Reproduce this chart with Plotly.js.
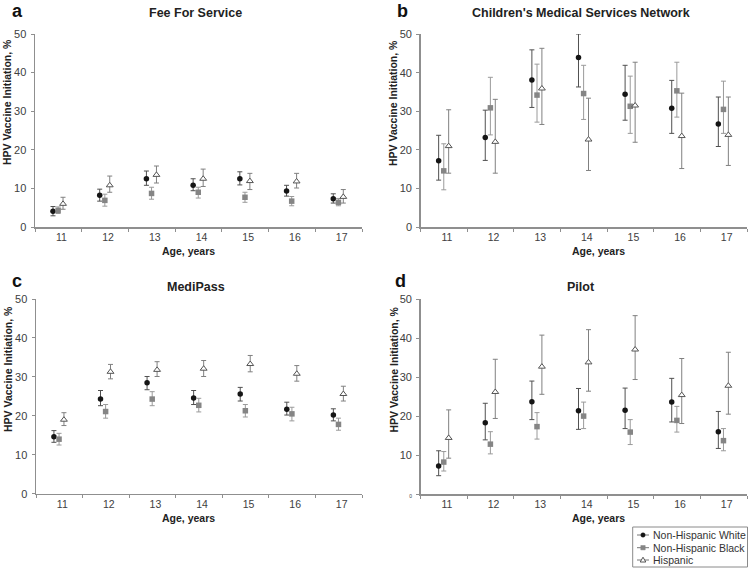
<!DOCTYPE html>
<html>
<head>
<meta charset="utf-8">
<script src="https://cdn.plot.ly/plotly-3.0.1.min.js"></script>
<style>html,body{margin:0;padding:0;background:#fff;}#chart{width:750px;height:572px;}</style>
</head>
<body>
<div id="chart"></div>
<script>
// ---------- data ----------
const ages = [11, 12, 13, 14, 15, 16, 17];
const seriesNames = ['Non-Hispanic White', 'Non-Hispanic Black', 'Hispanic'];
const panelTitles = ['Fee For Service', "Children's Medical Services Network", 'MediPass', 'Pilot'];
const panelLetters = ['a', 'b', 'c', 'd'];
const yTickVals = [0, 10, 20, 30, 40, 50];

// a: Fee For Service
const faWhite   = [4.1, 8.2, 12.5, 10.8, 12.5, 9.3, 7.3];
const faWhiteHi = [5.3, 9.8, 14.5, 12.5, 14.3, 10.8, 8.6];
const faWhiteLo = [2.9, 6.7, 10.8, 9.4, 10.9, 8.0, 6.2];
const faBlack   = [4.3, 6.9, 8.7, 9.0, 7.7, 6.7, 6.4];
const faBlackHi = [5.2, 8.5, 10.3, 10.3, 9.0, 7.9, 7.4];
const faBlackLo = [3.5, 5.4, 7.2, 7.5, 6.4, 5.5, 5.5];
const faHisp    = [6.0, 10.8, 13.5, 12.5, 11.9, 11.8, 7.8];
const faHispHi  = [7.7, 13.2, 15.8, 15.0, 13.9, 13.9, 9.7];
const faHispLo  = [4.6, 9.0, 11.4, 10.5, 9.7, 10.1, 6.2];

// b: Children's Medical Services Network
const cmWhite   = [17.2, 23.2, 38.1, 43.9, 34.4, 30.8, 26.7];
const cmWhiteHi = [23.8, 30.3, 45.9, 50.0, 41.9, 38.0, 33.7];
const cmWhiteLo = [12.2, 17.3, 31.0, 36.3, 27.7, 24.3, 20.9];
const cmBlack   = [14.6, 30.9, 34.2, 34.6, 31.3, 35.3, 30.5];
const cmBlackHi = [21.6, 38.8, 42.2, 41.9, 39.1, 42.7, 37.8];
const cmBlackLo = [9.7, 23.9, 27.2, 27.9, 24.3, 28.5, 24.3];
const cmHisp    = [21.0, 22.1, 35.9, 22.7, 31.5, 23.6, 23.9];
const cmHispHi  = [30.4, 33.1, 46.3, 33.4, 42.7, 34.7, 33.7];
const cmHispLo  = [14.0, 14.0, 26.6, 14.7, 22.0, 15.2, 16.0];

// c: MediPass
const mpWhite   = [14.6, 24.3, 28.5, 24.6, 25.6, 21.7, 20.2];
const mpWhiteHi = [16.2, 26.5, 30.1, 26.5, 27.3, 23.5, 21.8];
const mpWhiteLo = [13.2, 22.6, 26.7, 22.9, 23.8, 20.2, 18.7];
const mpBlack   = [14.0, 21.1, 24.3, 22.7, 21.3, 20.5, 17.8];
const mpBlackHi = [15.5, 22.9, 26.2, 24.5, 22.9, 22.2, 19.4];
const mpBlackLo = [12.5, 19.4, 22.6, 21.0, 19.7, 18.7, 16.3];
const mpHisp    = [19.0, 31.3, 31.8, 32.1, 33.3, 30.8, 25.6];
const mpHispHi  = [20.8, 33.2, 33.9, 34.2, 35.5, 32.9, 27.6];
const mpHispLo  = [17.5, 29.5, 30.1, 30.1, 31.3, 28.9, 23.8];

// d: Pilot
const plWhite   = [7.2, 18.3, 23.7, 21.4, 21.5, 23.6, 16.0];
const plWhiteHi = [11.1, 23.3, 29.0, 27.1, 27.2, 29.7, 21.2];
const plWhiteLo = [4.7, 13.9, 19.1, 16.6, 16.8, 18.5, 11.7];
const plBlack   = [8.2, 12.8, 17.3, 20.0, 15.9, 18.9, 13.7];
const plBlackHi = [10.9, 16.0, 20.9, 23.6, 19.1, 22.5, 16.8];
const plBlackLo = [5.9, 10.3, 14.1, 16.8, 12.7, 15.9, 11.1];
const plHisp    = [14.4, 26.2, 32.7, 33.8, 37.1, 25.4, 27.8];
const plHispHi  = [21.6, 34.6, 40.8, 42.2, 45.8, 34.8, 36.4];
const plHispLo  = [9.2, 19.4, 25.6, 26.4, 29.4, 18.1, 20.5];

// ---------- styling ----------
const FONT = 'Liberation Sans, Arial, Helvetica, sans-serif';
const W = 750, H = 572;
const px = x => x / W;
const py = y => 1 - y / H;

const styles = [
  { offset: -0.115, marker: { symbol: 'circle', size: 5.5, color: '#151515' }, err: '#505050' },
  { offset: -0.005, marker: { symbol: 'square', size: 5.5, color: '#858585' }, err: '#9a9a9a' },
  { offset: 0.10, marker: { symbol: 'triangle-up', size: 6, color: '#ffffff', line: { color: '#555555', width: 1 } }, err: '#808080' }
];

const panels = [
  { sets: [[faWhite, faWhiteHi, faWhiteLo], [faBlack, faBlackHi, faBlackLo], [faHisp, faHispHi, faHispLo]],
    box: { x0: 35, x1: 362, y0: 34, y1: 227 } },
  { sets: [[cmWhite, cmWhiteHi, cmWhiteLo], [cmBlack, cmBlackHi, cmBlackLo], [cmHisp, cmHispHi, cmHispLo]],
    box: { x0: 420.7, x1: 747, y0: 34, y1: 227.3 } },
  { sets: [[mpWhite, mpWhiteHi, mpWhiteLo], [mpBlack, mpBlackHi, mpBlackLo], [mpHisp, mpHispHi, mpHispLo]],
    box: { x0: 36, x1: 362, y0: 299, y1: 493.7 } },
  { sets: [[plWhite, plWhiteHi, plWhiteLo], [plBlack, plBlackHi, plBlackLo], [plHisp, plHispHi, plHispLo]],
    box: { x0: 420.7, x1: 747, y0: 299.3, y1: 494 } }
];

const traces = [];
const layout = {
  width: W, height: H,
  margin: { l: 0, r: 0, t: 0, b: 0 },
  paper_bgcolor: '#ffffff', plot_bgcolor: '#ffffff',
  font: { family: FONT, size: 11, color: '#404040' },
  showlegend: false,
  annotations: [],
  shapes: [],
  hovermode: false
};

panels.forEach((p, i) => {
  const n = i + 1;
  const xa = n === 1 ? 'x' : 'x' + n;
  const ya = n === 1 ? 'y' : 'y' + n;
  p.sets.forEach((s, k) => {
    const [v, hi, lo] = s;
    const st = styles[k];
    traces.push({
      type: 'scatter', mode: 'markers',
      x: ages.map(a => a + st.offset), y: v,
      xaxis: xa, yaxis: ya,
      name: seriesNames[k],
      marker: st.marker,
      error_y: {
        type: 'data', symmetric: false,
        array: hi.map((h, j) => h - v[j]),
        arrayminus: lo.map((l, j) => v[j] - l),
        color: st.err, thickness: 1, width: 2.5
      },
      cliponaxis: false
    });
  });
  const b = p.box;
  layout['xaxis' + (n === 1 ? '' : n)] = {
    domain: [px(b.x0), px(b.x1)], anchor: ya,
    range: [10.5, 17.5], tickvals: ages, ticktext: ages.map(String),
    ticks: '', showgrid: false, zeroline: false,
    showline: true, linecolor: '#8f8f8f', linewidth: 1.5,
    tickfont: { family: FONT, size: 10.5, color: '#404040' },
    ticklabelshift: 3, ticklabelstandoff: 0,
    minor: { tick0: 10.5, dtick: 1, ticks: 'outside', ticklen: 3, tickcolor: '#8f8f8f', tickwidth: 1, showgrid: false },
    fixedrange: true
  };
  layout['yaxis' + (n === 1 ? '' : n)] = {
    domain: [py(b.y1), py(b.y0)], anchor: xa,
    range: [0, 50], tickvals: yTickVals,
    ticktext: yTickVals.map(t => (i === 3 && t === 0) ? '<span style="font-size:5px">0</span>' : String(t)),
    ticks: 'outside', ticklen: 3, tickcolor: '#8f8f8f', tickwidth: 1,
    showgrid: false, zeroline: false,
    showline: true, linecolor: '#8f8f8f', linewidth: 1.5,
    tickfont: { family: FONT, size: 11, color: '#404040' },
    ticklabelstandoff: 2,
    fixedrange: true
  };
});

// titles, panel letters and axis titles
const titlePos = [[195, 12.5], [581, 12.5], [195.5, 287], [581.3, 287]];
const letterPos = [[17.5, 11], [402, 11], [16.5, 281], [401, 281]];
const xTitlePos = [[188, 250.5], [598, 251], [188, 518], [598, 518]];
const yTitlePos = [[7.5, 102.5], [393, 103], [7.5, 369.5], [393, 369.5]];

for (let i = 0; i < 4; i++) {
  layout.annotations.push({
    xref: 'paper', yref: 'paper', x: px(titlePos[i][0]), y: py(titlePos[i][1]),
    xanchor: 'center', yanchor: 'middle', showarrow: false,
    text: '<b>' + panelTitles[i] + '</b>',
    font: { family: FONT, size: 12.5, color: '#222222' }
  });
  layout.annotations.push({
    xref: 'paper', yref: 'paper', x: px(letterPos[i][0]), y: py(letterPos[i][1]),
    xanchor: 'center', yanchor: 'middle', showarrow: false,
    text: '<b>' + panelLetters[i] + '</b>',
    font: { family: FONT, size: 18, color: '#111111' }
  });
  layout.annotations.push({
    xref: 'paper', yref: 'paper', x: px(xTitlePos[i][0]), y: py(xTitlePos[i][1]),
    xanchor: 'center', yanchor: 'middle', showarrow: false,
    text: '<b>Age, years</b>',
    font: { family: FONT, size: 10.5, color: '#222222' }
  });
  layout.annotations.push({
    xref: 'paper', yref: 'paper', x: px(yTitlePos[i][0]), y: py(yTitlePos[i][1]),
    xanchor: 'center', yanchor: 'middle', showarrow: false, textangle: -90,
    text: '<b>HPV Vaccine Initiation, %</b>',
    font: { family: FONT, size: 10.5, color: '#222222' }
  });
}

// ---------- key (compact, drawn like the original) ----------
const key = { x0: 632.7, x1: 747.5, y0: 527, y1: 567, rows: [535, 547.7, 560], lineX0: 637, lineX1: 649, mx: 643, textX: 650.5 };
layout.shapes.push({ type: 'rect', xref: 'paper', yref: 'paper',
  x0: px(key.x0), x1: px(key.x1), y0: py(key.y1), y1: py(key.y0),
  line: { color: '#8a8a8a', width: 1 }, fillcolor: '#ffffff', layer: 'above' });
key.rows.forEach((ry, k) => {
  layout.shapes.push({ type: 'line', xref: 'paper', yref: 'paper',
    x0: px(key.lineX0), x1: px(key.lineX1), y0: py(ry), y1: py(ry),
    line: { color: '#777777', width: 1 }, layer: 'above' });
  const r = 2.2;
  if (k === 0) {
    layout.shapes.push({ type: 'circle', xref: 'paper', yref: 'paper',
      x0: px(key.mx - r), x1: px(key.mx + r), y0: py(ry + r), y1: py(ry - r),
      fillcolor: '#151515', line: { color: '#151515', width: 0.5 }, layer: 'above' });
  } else if (k === 1) {
    layout.shapes.push({ type: 'rect', xref: 'paper', yref: 'paper',
      x0: px(key.mx - r), x1: px(key.mx + r), y0: py(ry + r), y1: py(ry - r),
      fillcolor: '#858585', line: { color: '#858585', width: 0.5 }, layer: 'above' });
  } else {
    const path = 'M ' + px(key.mx) + ' ' + py(ry - 2.8) +
      ' L ' + px(key.mx + 2.8) + ' ' + py(ry + 2) +
      ' L ' + px(key.mx - 2.8) + ' ' + py(ry + 2) + ' Z';
    layout.shapes.push({ type: 'path', xref: 'paper', yref: 'paper', path: path,
      fillcolor: '#ffffff', line: { color: '#555555', width: 1 }, layer: 'above' });
  }
  layout.annotations.push({
    xref: 'paper', yref: 'paper', x: px(key.textX), y: py(ry),
    xanchor: 'left', yanchor: 'middle', showarrow: false,
    text: seriesNames[k],
    font: { family: FONT, size: 10.5, color: '#333333' }
  });
});

Plotly.newPlot('chart', traces, layout, { staticPlot: true, displayModeBar: false });
</script>
</body>
</html>
